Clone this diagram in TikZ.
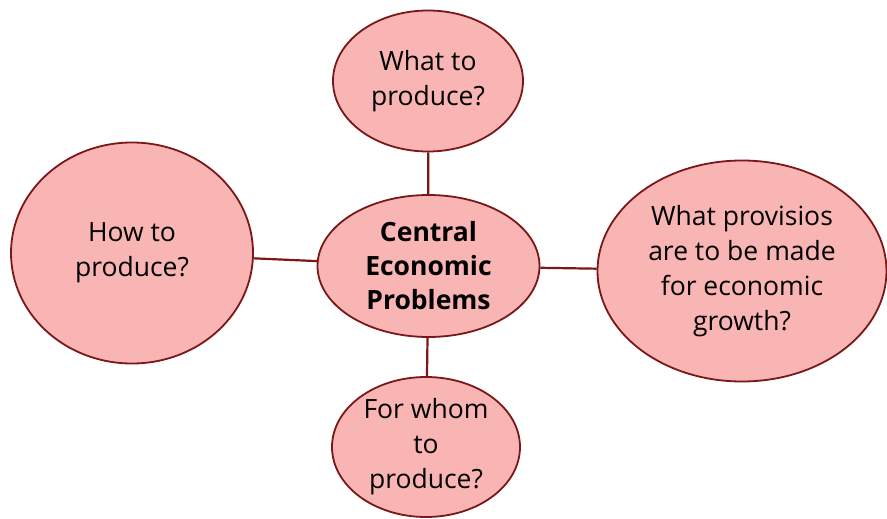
\documentclass[tikz,border=0pt]{standalone}
\usepackage{fontspec}
\setmainfont{Open Sans}
\usetikzlibrary{shapes.geometric}
\definecolor{bubblefill}{HTML}{F9B4B4}
\definecolor{bubbleline}{HTML}{7A1717}

\begin{document}
\begin{tikzpicture}[x=1pt, y=-1pt,
    bubble/.style={ellipse, draw=bubbleline, line width=1.8pt, fill=bubblefill, inner sep=0pt, align=center, font=\fontsize{26.5}{35}\selectfont},
    link/.style={draw=bubbleline, line width=2.2pt}]
    \useasboundingbox (0,0) rectangle (887,519);
    % Main components
    \node [bubble, minimum width=222pt, minimum height=142pt, font=\fontsize{26.5}{34}\selectfont\bfseries] (central) at (428.5,266) {Central\\Economic\\Problems};
    \node [bubble, minimum width=190pt, minimum height=141pt] (what) at (428,81) {What to\\produce?};
    \node [bubble, minimum width=242pt, minimum height=221pt] (how) at (132,253) {How to\\produce?};
    \node [bubble, minimum width=289pt, minimum height=221pt] (growth) at (742,271) {What provisios\\are to be made\\for economic\\growth?};
    \node [bubble, minimum width=188pt, minimum height=140pt] (whom) at (426,447) {For whom\\to\\produce?};

    % Links
    \draw[link] (central) -- (what);
    \draw[link] (central) -- (how);
    \draw[link] (central) -- (growth);
    \draw[link] (central) -- (whom);
\end{tikzpicture}
\end{document}
